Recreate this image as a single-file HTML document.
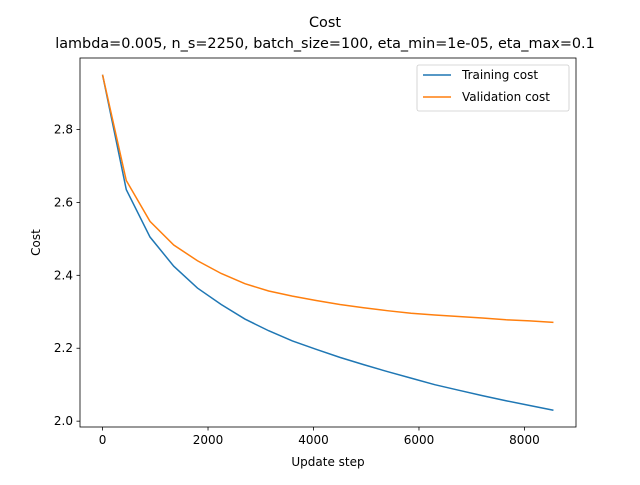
<!DOCTYPE html>
<html><head><meta charset="utf-8"><style>
body{margin:0;background:#fff;}
svg{font-family:"DejaVu Sans","Liberation Sans",sans-serif;}
</style></head><body>
<svg id="chart" width="640" height="480" xmlns="http://www.w3.org/2000/svg">
<rect width="640" height="480" fill="#fff"/>
<text x="325" y="27" text-anchor="middle" font-size="14.4">Cost</text>
<text x="325" y="48" text-anchor="middle" font-size="14.4">lambda=0.005, n_s=2250, batch_size=100, eta_min=1e-05, eta_max=0.1</text>
<g id="plot"></g>
<rect x="80" y="58" width="496" height="369" fill="none" stroke="#000" stroke-width="0.8"/>
<text x="328" y="466" text-anchor="middle" font-size="12">Update step</text>
<text transform="translate(40,242.5) rotate(-90)" text-anchor="middle" font-size="12">Cost</text>
<g>
<rect x="417" y="65" width="152" height="46" rx="2" fill="#fff" stroke="#ccc" stroke-width="0.8"/>
<line x1="423" y1="75" x2="451" y2="75" stroke="#1f77b4" stroke-width="1.5"/>
<text x="462" y="79" font-size="12">Training cost</text>
<line x1="423" y1="97" x2="451" y2="97" stroke="#ff7f0e" stroke-width="1.5"/>
<text x="462" y="101" font-size="12">Validation cost</text>
</g>
</svg>
<script>
const steps=[0,450,900,1350,1800,2250,2700,3150,3600,4050,4500,4950,5400,5850,6300,6750,7200,7650,8100,8550];
const trainCost=[2.95,2.635,2.505,2.425,2.365,2.32,2.28,2.248,2.22,2.197,2.175,2.155,2.136,2.118,2.1,2.085,2.07,2.056,2.043,2.03];
const valCost=[2.95,2.66,2.548,2.483,2.44,2.405,2.377,2.357,2.343,2.331,2.32,2.311,2.303,2.296,2.291,2.287,2.283,2.278,2.275,2.271];
const xTicks=[0,2000,4000,6000,8000];
const yTicks=[2.0,2.2,2.4,2.6,2.8];
const NS="http://www.w3.org/2000/svg";
const L=80,R=576,T=58,B=427;
const allY=trainCost.concat(valCost);
const xmin=Math.min(...steps),xmax=Math.max(...steps),xm=(xmax-xmin)*0.05;
const ymin=Math.min(...allY),ymax=Math.max(...allY),ym=(ymax-ymin)*0.05;
const sx=v=>L+(v-(xmin-xm))/((xmax+xm)-(xmin-xm))*(R-L);
const sy=v=>B-(v-(ymin-ym))/((ymax+ym)-(ymin-ym))*(B-T);
const g=document.getElementById('plot');
function mk(tag,attrs){const e=document.createElementNS(NS,tag);for(const k in attrs)e.setAttribute(k,attrs[k]);g.appendChild(e);return e;}
xTicks.forEach(t=>{
 const x=sx(t);
 const l=mk('line',{x1:x,y1:B,x2:x,y2:B+3.5,stroke:'#000','stroke-width':0.8});
 
 
 const tx=mk('text',{x:x,y:B+17,'text-anchor':'middle','font-size':12});
 
 
 tx.textContent=t;
});
yTicks.forEach(t=>{
 const y=sy(t);
 const l=mk('line',{x1:L-3.5,y1:y,x2:L,y2:y,stroke:'#000','stroke-width':0.8});
 
 
 const tx=mk('text',{x:L-7,y:y+4,'text-anchor':'end','font-size':12});
 
 
 tx.textContent=t.toFixed(1);
});
function line(vals,color,name){
 const p=mk('polyline',{points:steps.map((s,i)=>sx(s)+','+sy(vals[i])).join(' '),fill:'none',stroke:color,'stroke-width':1.5});
 
 
}
line(trainCost,'#1f77b4','training-cost-line');
line(valCost,'#ff7f0e','validation-cost-line');
</script>
</body></html>
